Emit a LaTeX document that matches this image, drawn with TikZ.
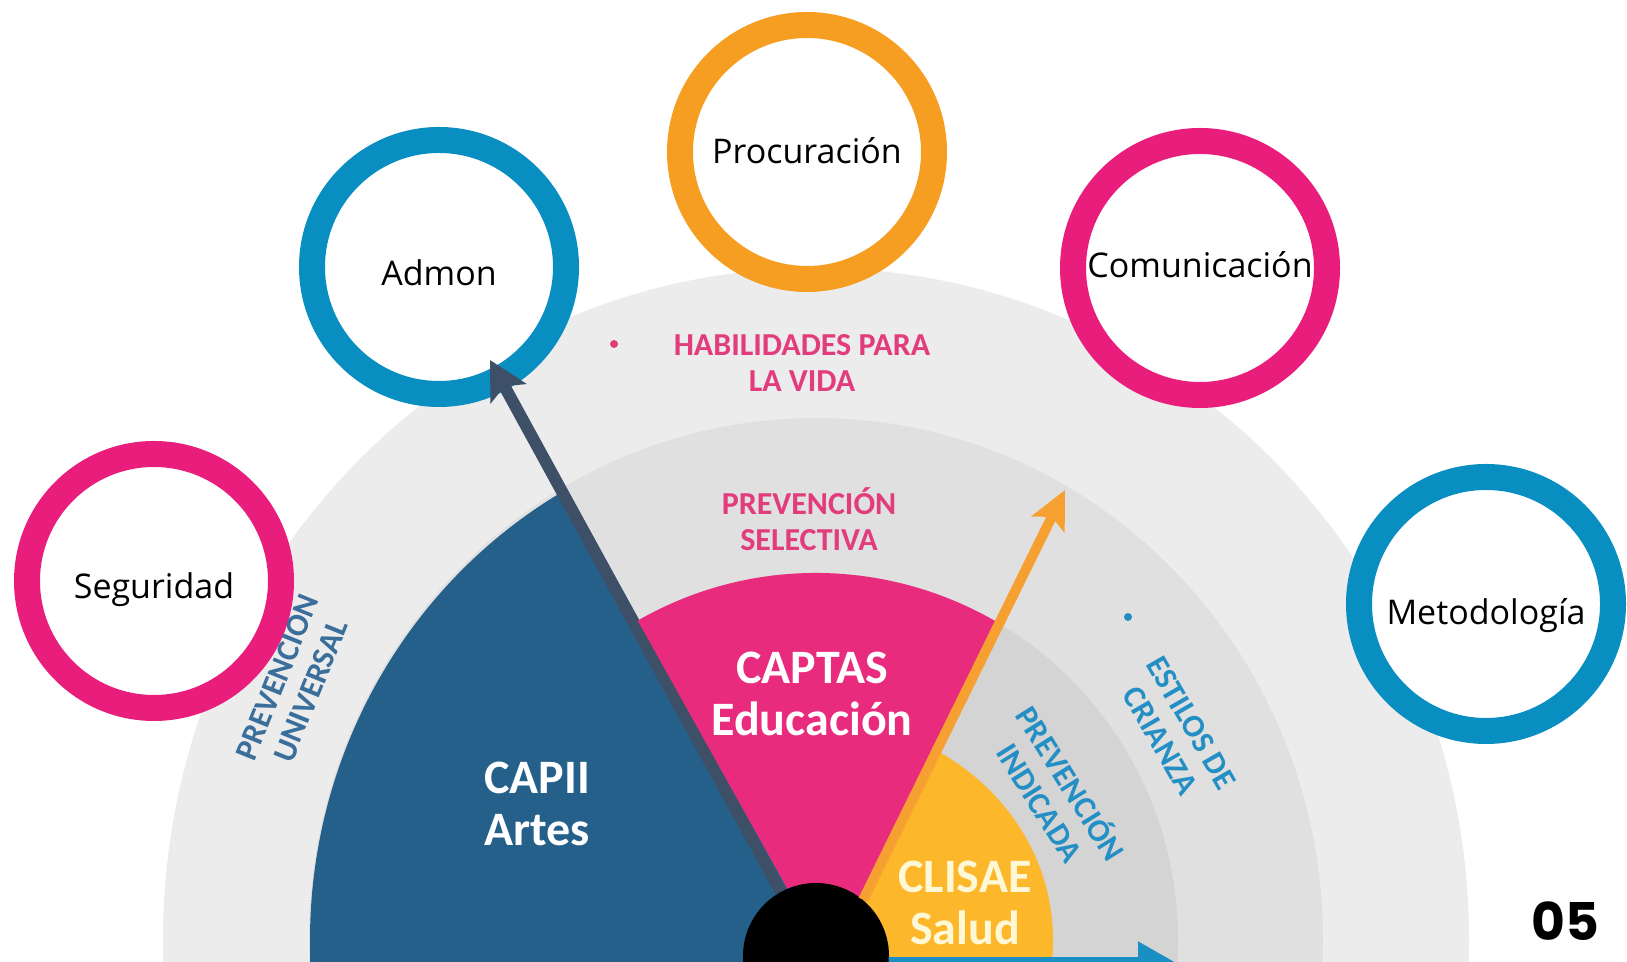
\documentclass[tikz,border=0pt]{standalone}
\usepackage{fontspec}
\setmainfont{Open Sans}
\newfontfamily\fanfont{Carlito}
\newfontfamily\numfont{Poppins}
\usetikzlibrary{arrows.meta,calc}
\definecolor{bandOuter}{RGB}{236,236,236}
\definecolor{bandMid}{RGB}{224,224,224}
\definecolor{bandInner}{RGB}{212,212,212}
\definecolor{fanBlue}{RGB}{37,96,138}
\definecolor{fanPink}{RGB}{232,43,124}
\definecolor{fanYellow}{RGB}{252,183,42}
\definecolor{ringPink}{RGB}{233,29,124}
\definecolor{ringBlue}{RGB}{8,142,192}
\definecolor{ringOrange}{RGB}{246,158,33}
\definecolor{arrowOrange}{RGB}{247,160,50}
\definecolor{arrowSlate}{RGB}{62,80,104}
\definecolor{arrowBlue}{RGB}{25,143,196}
\definecolor{labelPink}{RGB}{226,60,124}
\definecolor{labelSteel}{RGB}{58,110,155}
\definecolor{labelCyan}{RGB}{35,143,196}
\definecolor{saludCream}{RGB}{255,248,215}
\pgfdeclarelayer{fan}
\pgfsetlayers{fan,main}
\tikzset{
  ring/.style={circle, line width=13pt, fill=white, minimum size=127pt, inner sep=0pt, text height=16pt, text depth=4pt, font=\fontsize{17}{20}\selectfont},
  bandlabel/.style={align=center, inner sep=0pt, font=\fanfont\bfseries\fontsize{16}{18}\selectfont},
  sectorlabel/.style={align=center, inner sep=0pt, text=white, font=\fanfont\bfseries\fontsize{24}{26}\selectfont},
  dot/.style={circle, inner sep=0pt, minimum size=4pt}
}

\begin{document}
\begin{tikzpicture}[x=0.5pt, y=0.5pt]
    \path[use as bounding box] (0,0) rectangle (1627,962);
    \clip (0,0) rectangle (1627,962);
    \coordinate (O) at (816,22);
    \node[circle, fill=black, minimum size=73pt, inner sep=0pt] (hub) at (816,6) {};
    \coordinate (grayTip) at (490,602);
    \coordinate (orangeTip) at (1065,472);
    \coordinate (blueTip) at (1182,-4);

    \begin{pgfonlayer}{fan}
        \clip (0,0) rectangle (1627,962);
        \fill[white] (0,0) rectangle (1627,962);
        \fill[bandOuter] (O) ellipse [x radius=653, y radius=672];
        \fill[bandMid] (O) ellipse [x radius=507, y radius=522];
        \fill[bandInner] (O) ellipse [x radius=362, y radius=367];
        \node[ring, draw=ringOrange] (proc) at (807,810) {Procuración};
        \node[ring, draw=ringBlue, text height=22.4pt] (admon) at (439,695) {Admon};
        \node[ring, draw=ringPink, text height=14pt] (comu) at (1200,694) {Comunicación};
        \node[ring, draw=ringPink, text height=21.3pt] (segu) at (154,381) {Seguridad};
        \node[ring, draw=ringBlue, text height=24.5pt] (meto) at (1486,358) {Metodología};
        \fill[fanBlue] (O) -- ++(119.5:506 and 518) arc [start angle=119.5, end angle=180, x radius=506, y radius=518] -- ++(0,-60) -- ++(506,0) -- cycle;
        \draw[-{Stealth[length=19pt, width=20pt, inset=4pt]}, line width=6pt, color=arrowSlate] (hub) -- (grayTip);
        \begin{scope}
            \clip ($(hub.50)!-1!(orangeTip)$) -- ($(hub.50)!3!(orangeTip)$) -- (-100,1300) -- (-100,-400) -- cycle;
            \fill[fanPink] (O) -- ++(30:362 and 367) arc [start angle=30, end angle=119.5, x radius=362, y radius=367] -- cycle;
        \end{scope}
        \begin{scope}
            \clip ($(hub.50)!-1!(orangeTip)$) -- ($(hub.50)!3!(orangeTip)$) -- (1800,1300) -- (1800,-400) -- cycle;
            \fill[fanYellow] (O) -- ++(90:237 and 220) arc [start angle=90, end angle=-30, x radius=237, y radius=220] -- cycle;
        \end{scope}
    \end{pgfonlayer}

    \draw[-{Stealth[length=19pt, width=18pt, inset=4pt]}, line width=5pt, color=arrowOrange] (hub.50) -- (orangeTip);
    \draw[-{Triangle[length=22pt, width=23pt]}, line width=9pt, color=arrowBlue] (hub.352) -- (blueTip);

    \node[dot, fill=labelPink] (habDot) at (614,618) {};
    \node[bandlabel, text=labelPink] (habLabel) at (802,599) {HABILIDADES PARA\\LA VIDA};
    \node[bandlabel, text=labelPink] (selLabel) at (809,443) {PREVENCIÓN\\SELECTIVA};
    \node[bandlabel, text=labelSteel, rotate=68] (univLabel) at (294,278) {PREVENCION\\UNIVERSAL};
    \node[dot, fill=labelCyan] (estDot) at (1128,345) {};
    \node[bandlabel, text=labelCyan, rotate=-60] (estLabel) at (1176,230) {ESTILOS DE\\CRIANZA};
    \node[bandlabel, text=labelCyan, rotate=-58] (indLabel) at (1057,170) {PREVENCIÓN\\INDICADA};

    \node[sectorlabel] (capii) at (537,158) {CAPII\\Artes};
    \node[sectorlabel] (captas) at (812,268) {CAPTAS\\Educación};
    \node[sectorlabel, text=saludCream] (clisae) at (965,59) {CLISAE\\Salud};

    \node[font=\numfont\bfseries\fontsize{26}{30}\selectfont] (pageNum) at (1565,41) {05};
\end{tikzpicture}
\end{document}
